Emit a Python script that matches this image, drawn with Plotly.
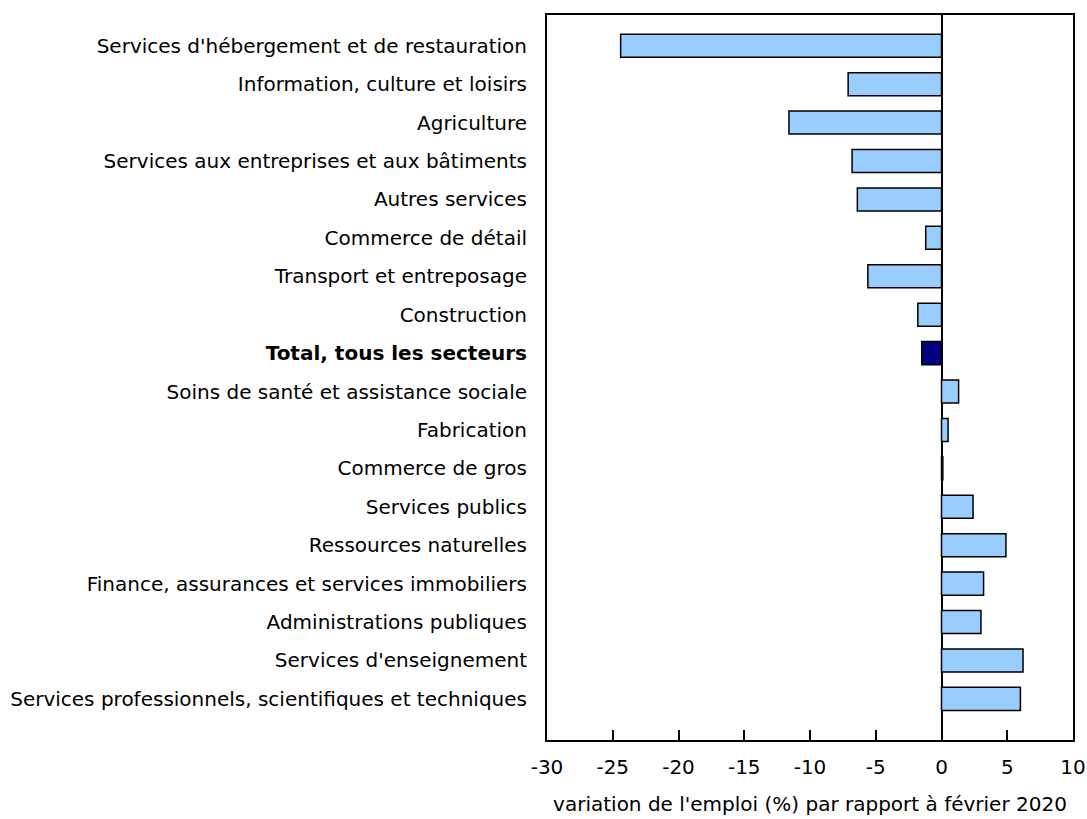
import plotly.graph_objects as go

categories = [
    "Services d'hébergement et de restauration",
    "Information, culture et loisirs",
    "Agriculture",
    "Services aux entreprises et aux bâtiments",
    "Autres services",
    "Commerce de détail",
    "Transport et entreposage",
    "Construction",
    "Total, tous les secteurs",
    "Soins de santé et assistance sociale",
    "Fabrication",
    "Commerce de gros",
    "Services publics",
    "Ressources naturelles",
    "Finance, assurances et services immobiliers",
    "Administrations publiques",
    "Services d'enseignement",
    "Services professionnels, scientifiques et techniques",
]
values = [-24.4, -7.1, -11.6, -6.8, -6.4, -1.2, -5.6, -1.8, -1.5,
          1.3, 0.5, 0.1, 2.4, 4.9, 3.2, 3.0, 6.2, 6.0]
total_label = "Total, tous les secteurs"
x_ticks = [-30, -25, -20, -15, -10, -5, 0, 5, 10]
x_title = "variation de l'emploi (%) par rapport à février 2020"

colors = ["#000080" if c == total_label else "#99CCFF" for c in categories]
ticktext = ["<b>" + c + "</b>" if c == total_label else c for c in categories]

fig = go.Figure(go.Bar(
    x=values, y=categories, orientation="h",
    marker=dict(color=colors, line=dict(color="#000000", width=1.5)),
    width=0.6,
))

fig.update_layout(
    width=1087, height=819,
    paper_bgcolor="white", plot_bgcolor="white",
    margin=dict(l=547, r=14, t=15, b=79),
    font=dict(family="DejaVu Sans, Verdana, sans-serif", size=20, color="#000000"),
    showlegend=False,
)
fig.update_xaxes(
    range=[-30, 10], tickvals=x_ticks, ticktext=[str(v) for v in x_ticks],
    ticks="inside", ticklen=10, tickwidth=2, tickcolor="#000000",
    showline=True, linecolor="#000000", linewidth=2, mirror=True,
    showgrid=False, zeroline=True, zerolinecolor="#000000", zerolinewidth=1.5,
    ticklabelstandoff=8, automargin=False,
    title=dict(text=x_title, standoff=19, font=dict(size=20)),
    tickfont=dict(size=20),
)
fig.update_yaxes(
    categoryorder="array", categoryarray=categories,
    tickvals=categories, ticktext=ticktext,
    range=[18.07, -0.8],
    showline=True, linecolor="#000000", linewidth=2, mirror=True,
    showgrid=False, ticks="", ticklabelstandoff=14, automargin=False,
    tickfont=dict(size=20),
)

fig.write_html("out.html", config={"displayModeBar": False},
               post_script="document.body.style.margin='0px';")
